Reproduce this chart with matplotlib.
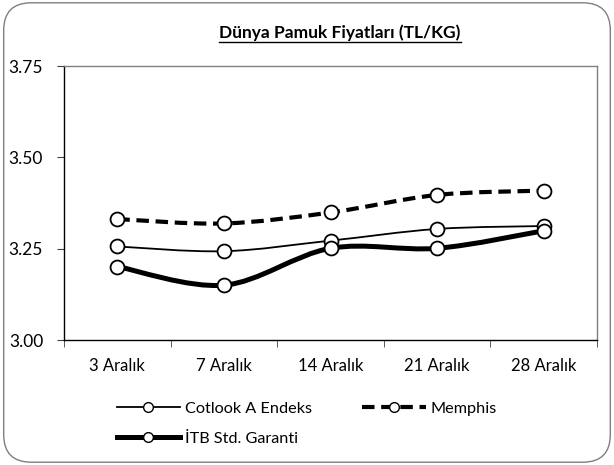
import numpy as np
import matplotlib
matplotlib.use("Agg")
import matplotlib.pyplot as plt
from matplotlib.path import Path
from matplotlib.patches import PathPatch, FancyBboxPatch
from matplotlib.lines import Line2D

plt.rcParams['font.family'] = ['Lato', 'DejaVu Sans']

# data
dates = ["3 Aralık", "7 Aralık", "14 Aralık", "21 Aralık", "28 Aralık"]
cotlook = [3.256, 3.243, 3.272, 3.304, 3.312]
memphis = [3.331, 3.319, 3.349, 3.397, 3.409]
itb = [3.201, 3.150, 3.251, 3.251, 3.299]
yticks = [3.00, 3.25, 3.50, 3.75]


def smooth_path(xs, ys):
    # Excel-like smoothed line: Catmull-Rom segments as cubic beziers
    pts = np.column_stack([xs, ys]).astype(float)
    n = len(pts)
    verts = [pts[0]]
    codes = [Path.MOVETO]
    for i in range(n - 1):
        p0 = pts[i - 1] if i > 0 else pts[i]
        p1 = pts[i]
        p2 = pts[i + 1]
        p3 = pts[i + 2] if i + 2 < n else pts[i + 1]
        c1 = p1 + (p2 - p0) / 6.0
        c2 = p2 - (p3 - p1) / 6.0
        verts += [c1, c2, p2]
        codes += [Path.CURVE4] * 3
    return Path(verts, codes)


fig = plt.figure(figsize=(6.14, 4.65), dpi=100)
border = FancyBboxPatch((0.006, 0.006), 0.988, 0.988, boxstyle="round,pad=0,rounding_size=0.045",
                        transform=fig.transFigure, facecolor="none", edgecolor="#7f7f7f",
                        linewidth=1.0, mutation_aspect=614 / 465, zorder=5)
fig.patches.append(border)

ax = fig.add_axes([64 / 614, 1 - 340 / 465, 533 / 614, 274 / 465])
ax.set_facecolor("none")
x = np.arange(len(dates))

series = [
    (cotlook, dict(lw=1.3, ls="-")),
    (memphis, dict(lw=3.0, ls=(0, (3.0, 1.6)))),
    (itb, dict(lw=3.6, ls="-")),
]
for vals, st in series:
    patch = PathPatch(smooth_path(x, vals), facecolor="none", edgecolor="black",
                      lw=st["lw"], linestyle=st["ls"], capstyle="butt", zorder=2)
    ax.add_patch(patch)
    ax.plot(x, vals, ls="none", marker="o", ms=10, mfc="white", mec="black", mew=1.3, zorder=3)

ax.set_xlim(-0.5, len(dates) - 0.5)
ax.set_ylim(3.0, 3.75)
ax.set_yticks(yticks)
ax.set_yticklabels([f"{v:.2f}" for v in yticks], fontsize=12.5)
ax.set_xticks(x)
ax.set_xticklabels(dates, fontsize=12)
ax.set_xticks(np.arange(len(dates) + 1) - 0.5, minor=True)
ax.tick_params(axis="x", which="major", length=0, pad=13)
ax.tick_params(axis="x", which="minor", length=5, direction="out", color="#404040")
ax.tick_params(axis="y", length=5, direction="out", pad=10, color="#404040")

for s in ["left", "bottom"]:
    ax.spines[s].set_color("black")
    ax.spines[s].set_linewidth(1.0)
for s in ["top", "right"]:
    ax.spines[s].set_color("#808080")
    ax.spines[s].set_linewidth(1.0)

# legend
h_cot = Line2D([], [], color="black", lw=1.3, marker="o", ms=7, mfc="white", mec="black")
h_mem = Line2D([], [], color="black", lw=3.0, ls=(0, (3.0, 1.6)), marker="o", ms=7, mfc="white", mec="black")
h_itb = Line2D([], [], color="black", lw=3.6, marker="o", ms=7, mfc="white", mec="black")
fig.legend([h_cot, h_itb, h_mem], ["Cotlook A Endeks", "İTB Std. Garanti", "Memphis"],
           ncol=2, loc="upper left", bbox_to_anchor=(102 / 614, 1 - 387 / 465),
           frameon=False, fontsize=11.7, handlelength=3.9, handletextpad=0.3,
           columnspacing=3.1, labelspacing=0.95)

title = fig.text(340 / 614, 1 - 33 / 465, "Dünya Pamuk Fiyatları (TL/KG)", ha="center", va="center",
                 fontsize=12.5, fontweight="bold")
fig.canvas.draw()
bb = title.get_window_extent().transformed(fig.transFigure.inverted())
fig.add_artist(Line2D([bb.x0, bb.x1], [bb.y0 - 0.002, bb.y0 - 0.002], color="black", lw=1.0,
                      transform=fig.transFigure))

fig.savefig("out.png", dpi=100)
